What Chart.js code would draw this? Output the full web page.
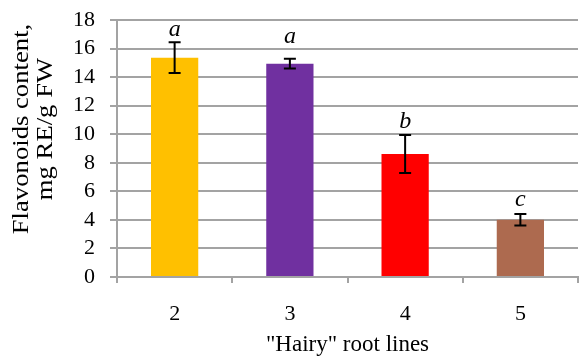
<!DOCTYPE html>
<html><head><meta charset="utf-8">
<script src="https://cdn.jsdelivr.net/npm/chart.js@4/dist/chart.umd.min.js"></script>
<style>html,body{margin:0;padding:0;background:#fff}#wrap{width:579px;height:356px}</style>
</head><body><div id="wrap"><canvas id="c" width="579" height="356"></canvas></div>
<script>
const categories = ["2", "3", "4", "5"];
const values = [15.36, 14.94, 8.61, 4.01];
const errors = [1.08, 0.34, 1.33, 0.40];
const letters = ["a", "a", "b", "c"];
const letterValues = [17.35, 16.8, 10.85, 5.4];
const colors = ["#FFC000", "#7030A0", "#FF0000", "#AD6A4F"];
const yTitleLines = ["Flavonoids content,", "mg RE/g FW"];
const xTitle = "\"Hairy\" root lines";

const FONT = "'Liberation Serif', 'Times New Roman', serif";
const GRID = "#a3a3a3";

const extras = {
  id: 'extras',
  afterDatasetsDraw(chart) {
    const ctx = chart.ctx;
    const meta = chart.getDatasetMeta(0);
    const y = chart.scales.y;
    ctx.save();
    ctx.strokeStyle = "#000";
    ctx.lineWidth = 2;
    meta.data.forEach((bar, i) => {
      const x = bar.x;
      const yt = y.getPixelForValue(values[i] + errors[i]);
      const yb = y.getPixelForValue(values[i] - errors[i]);
      ctx.beginPath();
      ctx.moveTo(x, yt); ctx.lineTo(x, yb);
      ctx.moveTo(x - 6, yt); ctx.lineTo(x + 6, yt);
      ctx.moveTo(x - 6, yb); ctx.lineTo(x + 6, yb);
      ctx.stroke();
      ctx.fillStyle = "#000";
      ctx.font = "italic 24px " + FONT;
      ctx.textAlign = "center";
      ctx.textBaseline = "middle";
      ctx.fillText(letters[i], x, y.getPixelForValue(letterValues[i]));
    });
    // y title
    ctx.translate(34, 129);
    ctx.rotate(-Math.PI / 2);
    ctx.scale(1.16, 1);
    ctx.font = "23px " + FONT;
    ctx.fillStyle = "#000";
    ctx.textAlign = "center";
    ctx.textBaseline = "middle";
    ctx.fillText(yTitleLines[0], 0, -12);
    ctx.fillText(yTitleLines[1], 0, 12);
    ctx.restore();
  }
};

new Chart(document.getElementById('c'), {
  type: 'bar',
  data: {
    labels: categories,
    datasets: [{
      data: values,
      backgroundColor: colors,
      borderWidth: 0,
      categoryPercentage: 1.0,
      barPercentage: 0.41
    }]
  },
  options: {
    responsive: false,
    animation: false,
    events: [],
    layout: { padding: { left: 0, right: 1, top: 20, bottom: 0 } },
    plugins: { legend: { display: false }, tooltip: { enabled: false } },
    scales: {
      x: {
        afterFit(s) { s.height = 79; s.paddingLeft = 0; s.paddingRight = 0; },
        grid: { offset: true, drawOnChartArea: false, drawTicks: true, tickLength: 6, color: GRID, lineWidth: 2 },
        border: { display: true, color: GRID, width: 2 },
        ticks: { font: { family: FONT, size: 22 }, color: "#000", padding: 18 },
        title: { display: true, text: xTitle, font: { family: FONT, size: 23 }, color: "#000", padding: { top: 4, bottom: -3 } }
      },
      y: {
        afterFit(s) { s.width = 117; s.paddingTop = 0; s.paddingBottom = 0; },
        min: 0, max: 18,
        ticks: { stepSize: 2, autoSkip: false, font: { family: FONT, size: 22 }, color: "#000", padding: 15 },
        grid: { drawTicks: true, tickLength: 7, color: GRID, lineWidth: 2 },
        border: { display: true, color: GRID, width: 2 }
      }
    }
  },
  plugins: [extras]
});
</script>
</body></html>
